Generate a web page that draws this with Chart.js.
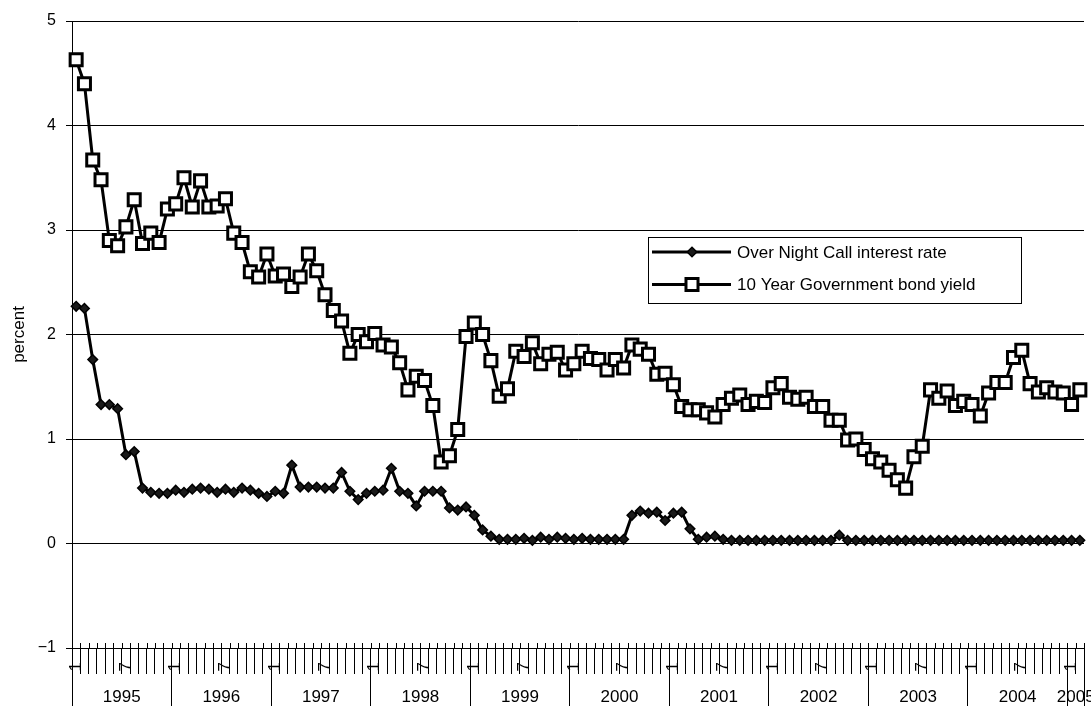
<!DOCTYPE html>
<html>
<head>
<meta charset="utf-8">
<title>Over Night Call interest rate and 10 Year Government bond yield</title>
<script src="https://cdn.jsdelivr.net/npm/chart.js@4.4.1/dist/chart.umd.min.js"></script>
<style>
  html, body { margin: 0; padding: 0; background: #fff; }
  #wrap { width: 1091px; height: 706px; position: relative; }
</style>
</head>
<body>
<div id="wrap"><canvas id="chart"></canvas></div>
<script>
// years shown on the second axis row and how many months each one holds
const years = ["1995", "1996", "1997", "1998", "1999", "2000", "2001", "2002", "2003", "2004", "2005"];
const monthsInYear = [12, 12, 12, 12, 12, 12, 12, 12, 12, 12, 2];

// month numbers that get a label on the first axis row
const labelledMonths = { 1: "1", 7: "7" };

const yTicks = [-1, 0, 1, 2, 3, 4, 5];

// monthly values, Jan 1995 .. Feb 2005
const overnightCall = [
  2.27, 2.25, 1.76, 1.33, 1.33, 1.29, 0.85, 0.88, 0.53, 0.49, 0.48, 0.48,
  0.51, 0.49, 0.52, 0.53, 0.52, 0.49, 0.52, 0.49, 0.53, 0.51, 0.48, 0.45,
  0.50, 0.48, 0.75, 0.54, 0.54, 0.54, 0.53, 0.53, 0.68, 0.50, 0.42, 0.48,
  0.50, 0.51, 0.72, 0.50, 0.48, 0.36, 0.50, 0.50, 0.50, 0.34, 0.32, 0.35,
  0.27, 0.13, 0.07, 0.04, 0.04, 0.04, 0.05, 0.03, 0.06, 0.04, 0.06, 0.05,
  0.04, 0.05, 0.04, 0.04, 0.04, 0.04, 0.04, 0.27, 0.31, 0.29, 0.30, 0.22,
  0.29, 0.30, 0.14, 0.04, 0.06, 0.07, 0.04, 0.03, 0.03, 0.03, 0.03, 0.03,
  0.03, 0.03, 0.03, 0.03, 0.03, 0.03, 0.03, 0.03, 0.08, 0.03, 0.03, 0.03,
  0.03, 0.03, 0.03, 0.03, 0.03, 0.03, 0.03, 0.03, 0.03, 0.03, 0.03, 0.03,
  0.03, 0.03, 0.03, 0.03, 0.03, 0.03, 0.03, 0.03, 0.03, 0.03, 0.03, 0.03,
  0.03, 0.03
];

const bondYield10y = [
  4.63, 4.40, 3.67, 3.48, 2.90, 2.85, 3.03, 3.29, 2.87, 2.97, 2.88, 3.20,
  3.25, 3.50, 3.22, 3.47, 3.22, 3.23, 3.30, 2.97, 2.88, 2.60, 2.55, 2.77,
  2.56, 2.58, 2.46, 2.55, 2.77, 2.61, 2.38, 2.23, 2.13, 1.82, 2.00, 1.93,
  2.01, 1.90, 1.88, 1.73, 1.47, 1.60, 1.56, 1.32, 0.78, 0.84, 1.09, 1.98,
  2.11, 2.00, 1.75, 1.41, 1.48, 1.84, 1.79, 1.92, 1.72, 1.81, 1.83, 1.66,
  1.72, 1.84, 1.77, 1.76, 1.66, 1.76, 1.68, 1.90, 1.86, 1.81, 1.62, 1.63,
  1.52, 1.31, 1.28, 1.28, 1.25, 1.21, 1.33, 1.39, 1.42, 1.33, 1.36, 1.35,
  1.49, 1.53, 1.40, 1.38, 1.40, 1.31, 1.31, 1.18, 1.18, 0.99, 1.00, 0.90,
  0.81, 0.78, 0.70, 0.61, 0.53, 0.83, 0.93, 1.47, 1.39, 1.46, 1.32, 1.36,
  1.33, 1.22, 1.44, 1.54, 1.54, 1.78, 1.85, 1.53, 1.45, 1.49, 1.45, 1.44,
  1.33, 1.47
];

// category list and label helpers
const months = [];
const monthLabels = [];
years.forEach((y, i) => {
  for (let m = 1; m <= monthsInYear[i]; m++) {
    months.push(y + "-" + m);
    monthLabels.push(labelledMonths[m] || "");
  }
});

// year row: separators at the year edges, the year name in the middle
const yearEdges = [];
const yearMiddles = {};
let start = -0.5;
years.forEach((y, i) => {
  yearEdges.push(start);
  yearMiddles[start + monthsInYear[i] / 2] = y;
  start += monthsInYear[i];
});
yearEdges.push(start);
const yearTickValues = yearEdges.concat(Object.keys(yearMiddles).map(Number)).sort((a, b) => a - b);

Chart.defaults.font.family = "'Liberation Sans', Arial, sans-serif";
Chart.defaults.font.size = 17;
Chart.defaults.color = "#000";

// Excel-like legend box inside the plot
const legendBox = {
  id: "legendBox",
  afterDraw(chart) {
    const ctx = chart.ctx;
    const x0 = 648, y0 = 237, w = 373, h = 66;
    ctx.save();
    ctx.fillStyle = "#fff";
    ctx.fillRect(x0, y0, w, h);
    ctx.strokeStyle = "#000";
    ctx.lineWidth = 1;
    ctx.strokeRect(x0 + 0.5, y0 + 0.5, w, h);
    ctx.font = "17px 'Liberation Sans', Arial, sans-serif";
    ctx.textBaseline = "middle";
    chart.data.datasets.forEach((ds, i) => {
      const y = y0 + 15 + i * 32.6;
      ctx.strokeStyle = ds.borderColor;
      ctx.lineWidth = ds.borderWidth;
      ctx.beginPath();
      ctx.moveTo(x0 + 4, y);
      ctx.lineTo(x0 + 83, y);
      ctx.stroke();
      ctx.fillStyle = ds.pointBackgroundColor;
      ctx.strokeStyle = ds.pointBorderColor;
      ctx.lineWidth = ds.pointBorderWidth;
      Chart.helpers.drawPoint(ctx, {
        pointStyle: ds.pointStyle, radius: ds.pointRadius, borderWidth: ds.pointBorderWidth, rotation: 0
      }, x0 + 44, y);
      ctx.fillStyle = "#000";
      ctx.fillText(ds.label, x0 + 89, y + 1);
    });
    ctx.restore();
  }
};

// month tick marks poke a few px above the category axis line
const tickOvershoot = {
  id: "tickOvershoot",
  afterDatasetsDraw(chart) {
    const xs = chart.scales.x;
    const ctx = chart.ctx;
    ctx.save();
    ctx.strokeStyle = "#000";
    ctx.lineWidth = 1;
    ctx.beginPath();
    for (let i = 0; i <= months.length; i++) {
      const px = Math.round(xs.getPixelForValue(i - 0.5)) + 0.5;
      ctx.moveTo(px, xs.top - 5);
      ctx.lineTo(px, xs.top);
    }
    ctx.stroke();
    ctx.restore();
  }
};

new Chart(document.getElementById("chart"), {
  type: "line",
  data: {
    labels: months,
    datasets: [
      {
        label: "Over Night Call interest rate",
        data: overnightCall,
        borderColor: "#000",
        borderWidth: 3,
        pointStyle: "rectRot",
        pointRadius: 4.8,
        pointBackgroundColor: "#1a1a1a",
        pointBorderColor: "#000",
        pointBorderWidth: 1.5,
        tension: 0,
        clip: false
      },
      {
        label: "10 Year Government bond yield",
        data: bondYield10y,
        borderColor: "#000",
        borderWidth: 3,
        pointStyle: "rect",
        pointRadius: 8.5,
        pointBackgroundColor: "#fff",
        pointBorderColor: "#000",
        pointBorderWidth: 3,
        tension: 0,
        clip: false
      }
    ]
  },
  options: {
    responsive: true,
    maintainAspectRatio: false,
    animation: false,
    layout: { autoPadding: false, padding: { left: 0, right: 7, top: 21, bottom: 0 } },
    plugins: {
      legend: { display: false },
      tooltip: { enabled: false }
    },
    scales: {
      x: {
        type: "category",
        offset: true,
        weight: 0,
        grid: { offset: true, drawOnChartArea: false, tickLength: 26, color: "#000", lineWidth: 1 },
        border: { display: true, color: "#000", width: 1 },
        ticks: {
          autoSkip: false, maxRotation: 90, minRotation: 90, padding: -12,
          callback: (v, i) => monthLabels[i]
        },
        afterFit: scale => { scale.height = 24; scale.paddingLeft = 0; scale.paddingRight = 0; }
      },
      x2: {
        type: "linear",
        position: "bottom",
        weight: 1,
        min: -0.5,
        max: months.length - 0.5,
        bounds: "data",
        afterBuildTicks: scale => { scale.ticks = yearTickValues.map(v => ({ value: v })); },
        grid: {
          drawOnChartArea: false,
          tickLength: 34,
          lineWidth: 1,
          color: c => (c.tick && yearEdges.includes(c.tick.value)) ? "#000" : "rgba(0,0,0,0)"
        },
        border: { display: false },
        ticks: {
          autoSkip: false, maxRotation: 0, minRotation: 0, padding: -19,
          callback: v => yearMiddles[v] || ""
        },
        afterFit: scale => { scale.height = 34; scale.paddingLeft = 0; scale.paddingRight = 0; }
      },
      y: {
        min: yTicks[0],
        max: yTicks[yTicks.length - 1],
        afterBuildTicks: scale => { scale.ticks = yTicks.map(v => ({ value: v })); },
        grid: { color: "#000", lineWidth: 1, tickLength: 6 },
        border: { display: true, color: "#000", width: 1 },
        ticks: {
          padding: 10,
          font: { size: 16 },
          callback: v => String(v).replace("-", "\u2212")
        },
        title: { display: true, text: "percent", font: { size: 17 }, padding: { top: 9, bottom: 0 } },
        afterFit: scale => { scale.width = 72; scale.paddingTop = 0; scale.paddingBottom = 0; }
      }
    }
  },
  plugins: [legendBox, tickOvershoot]
});
</script>
</body>
</html>
